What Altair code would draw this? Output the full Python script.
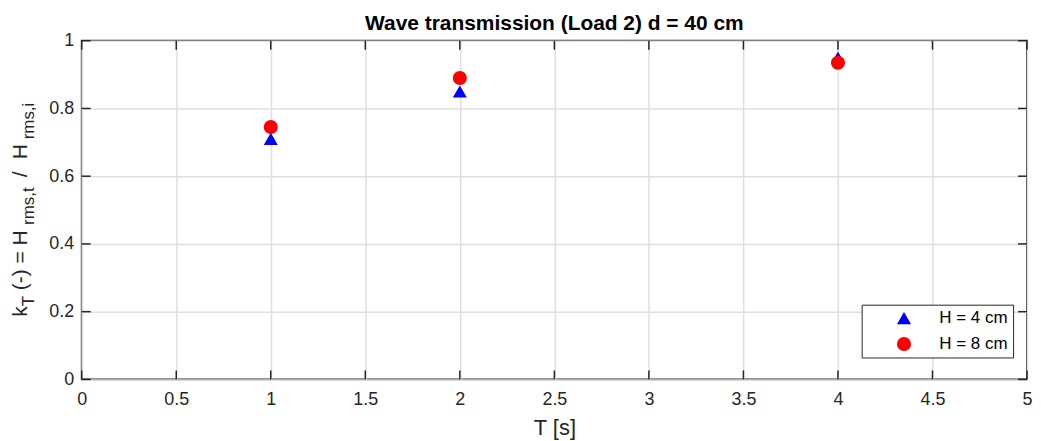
import altair as alt
import pandas as pd

# ---- data ----
T_values = [1, 2, 4]
kt_H4 = [0.71, 0.85, 0.95]
kt_H8 = [0.745, 0.89, 0.935]
series_names = ["H = 4 cm", "H = 8 cm"]
series_colors = ["#0000ff", "#ff0000"]
series_shapes = ["triangle-up", "circle"]
x_ticks = [0, 0.5, 1, 1.5, 2, 2.5, 3, 3.5, 4, 4.5, 5]
y_ticks = [0, 0.2, 0.4, 0.6, 0.8, 1]
title_text = "Wave transmission (Load 2) d = 40 cm"
x_title = "T [s]"
# y title pieces: (text, is_subscript, start position along the axis in px from plot top)
y_title_parts = [("k", False, 277), ("T", True, 266.5), ("(-) = H", False, 250.5),
                 ("rms,t", True, 185), ("/", False, 137), ("H", False, 119), ("rms,i", True, 99)]

W, H = 949, 340
FONT = "Liberation Sans"
AX = "#262626"

df = pd.DataFrame({
    "T": T_values * 2,
    "kt": kt_H4 + kt_H8,
    "series": [series_names[0]] * 3 + [series_names[1]] * 3,
})

xscale = alt.Scale(domain=[0, 5], nice=False, zero=False)
yscale = alt.Scale(domain=[0, 1], nice=False, zero=False)

leg = dict(title=None, orient="none", legendX=783, legendY=265, strokeColor=AX,
           fillColor="white", padding=5, symbolOffset=29, labelOffset=27,
           labelFontSize=17, labelFont=FONT, labelColor="black", symbolSize=200,
           rowPadding=8, symbolStrokeWidth=0, symbolOpacity=1, labelLimit=0)

points = alt.Chart(df).mark_point(filled=True, size=200, opacity=1).encode(
    x=alt.X("T:Q", scale=xscale,
            axis=alt.Axis(values=x_ticks, format="~g", title=x_title, grid=True,
                          gridColor="#dfdfdf", gridWidth=1.5, ticks=False, tickSize=0,
                          domain=False, labelFontSize=18, labelFont=FONT, labelColor=AX,
                          labelPadding=11, labelFlush=False, titleFontSize=22, titleFont=FONT,
                          titleFontWeight="normal", titleColor=AX, titlePadding=9)),
    y=alt.Y("kt:Q", scale=yscale,
            axis=alt.Axis(values=y_ticks, format="~g", title=None, grid=True,
                          gridColor="#dfdfdf", gridWidth=1.5, ticks=False, tickSize=0,
                          domain=False, labelFontSize=18, labelFont=FONT, labelColor=AX,
                          labelPadding=8, labelFlush=False)),
    color=alt.Color("series:N", scale=alt.Scale(domain=series_names, range=series_colors),
                    legend=alt.Legend(**leg)),
    shape=alt.Shape("series:N", scale=alt.Scale(domain=series_names, range=series_shapes),
                    legend=alt.Legend(**leg)),
)

# inward ticks (MATLAB style box)
xt = pd.DataFrame({"T": x_ticks})
yt = pd.DataFrame({"kt": y_ticks})
TL = 9
tick_style = dict(color=AX, strokeWidth=1.5)
xt_bot = alt.Chart(xt).mark_rule(**tick_style).encode(x=alt.X("T:Q", scale=xscale), y=alt.value(H), y2=alt.value(H - TL))
xt_top = alt.Chart(xt).mark_rule(**tick_style).encode(x=alt.X("T:Q", scale=xscale), y=alt.value(0), y2=alt.value(TL))
yt_left = alt.Chart(yt).mark_rule(**tick_style).encode(y=alt.Y("kt:Q", scale=yscale), x=alt.value(0), x2=alt.value(TL))
yt_right = alt.Chart(yt).mark_rule(**tick_style).encode(y=alt.Y("kt:Q", scale=yscale), x=alt.value(W), x2=alt.value(W - TL))

# rotated y title with subscripts
F_MAIN, F_SUB = 21, 17
base_x = -55
title_layers = []
one = pd.DataFrame({"a": [0]})
for txt, sub, start in y_title_parts:
    f = F_SUB if sub else F_MAIN
    title_layers.append(
        alt.Chart(one).mark_text(text=txt, angle=270, align="left", baseline="alphabetic",
                                 fontSize=f, font=FONT, color=AX)
        .encode(x=alt.value(base_x + (7 if sub else 0)), y=alt.value(start))
    )

chart = alt.layer(points, xt_bot, xt_top, yt_left, yt_right, *title_layers).properties(
    width=W, height=H,
    title=alt.TitleParams(title_text, fontSize=21, fontWeight="bold", font=FONT, color="black",
                          anchor="middle", frame="group", offset=-2),
    autosize=alt.AutoSizeParams(type="none"),
    padding={"left": 74, "top": 32, "right": 6, "bottom": 61},
).configure(font=FONT).configure_view(stroke=AX, strokeWidth=1.8)

chart.save("out.html", embed_options={"renderer": "svg", "actions": False})
